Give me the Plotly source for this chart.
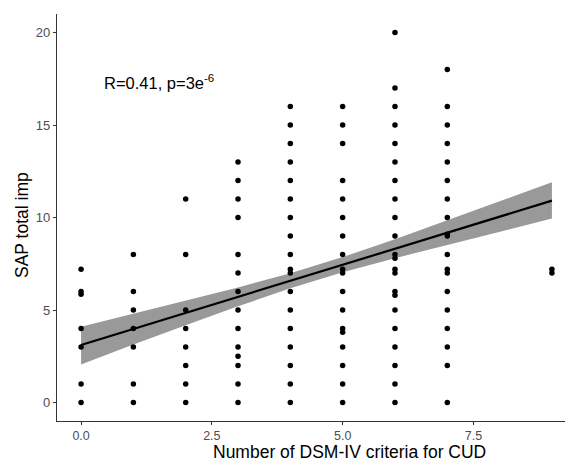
import plotly.graph_objects as go

# Scatter data: DSM-IV criteria count (x) vs SAP total imp (y)
crit_0 = [7.2, 6.0, 5.85, 4, 3, 1, 0]
crit_1 = [8, 6, 5, 4, 3, 1, 0]
crit_2 = [11, 8, 5, 4, 3, 2, 1, 0]
crit_3 = [13, 12, 11, 10, 8, 7, 6, 5, 4, 3, 2.5, 2, 1, 0]
crit_4 = [16, 15, 14, 13, 12, 11, 10, 9, 8, 7.2, 7, 6, 5, 4, 3, 2, 1, 0]
crit_5 = [16, 15, 14, 12, 11, 10, 9, 8, 7.2, 7, 6, 5, 4, 3.8, 3, 2, 1, 0]
crit_6 = [20, 17, 16, 15, 14, 13, 12, 11, 10, 9, 8, 7.8, 7.2, 7, 6, 5.8, 5, 4, 3, 2, 1, 0]
crit_7 = [18, 16, 15, 14, 13, 12, 11, 10, 9.1, 9, 8, 7.2, 7, 6, 5, 4, 3, 2, 0]
crit_9 = [7.2, 7.0]

groups = {0: crit_0, 1: crit_1, 2: crit_2, 3: crit_3, 4: crit_4,
          5: crit_5, 6: crit_6, 7: crit_7, 9: crit_9}

# Regression fit and confidence band
fit_x = [0, 1, 2, 3, 4, 5, 6, 7, 8, 9]
fit_y = [3.11, 3.98, 4.84, 5.71, 6.58, 7.45, 8.31, 9.18, 10.05, 10.91]
ci_upper = [4.10, 4.82, 5.50, 6.22, 6.99, 7.86, 8.82, 9.84, 10.89, 11.90]
ci_lower = [2.05, 3.14, 4.18, 5.20, 6.17, 7.04, 7.80, 8.52, 9.21, 9.94]

x_ticks = [0, 2.5, 5, 7.5]
x_tick_labels = ["0.0", "2.5", "5.0", "7.5"]
y_ticks = [0, 5, 10, 15, 20]

xs, ys = [], []
for k, vals in groups.items():
    for v in vals:
        xs.append(k)
        ys.append(v)

FONT = "Liberation Sans, Arial, Helvetica, sans-serif"

fig = go.Figure()
fig.add_trace(go.Scatter(
    x=fit_x + fit_x[::-1], y=ci_upper + ci_lower[::-1],
    fill="toself", fillcolor="#999999", line=dict(width=0),
    mode="lines", hoverinfo="skip", showlegend=False))
fig.add_trace(go.Scatter(
    x=fit_x, y=fit_y, mode="lines",
    line=dict(color="black", width=2.2), showlegend=False))
fig.add_trace(go.Scatter(
    x=xs, y=ys, mode="markers",
    marker=dict(color="black", size=5.5), showlegend=False))

L, R, T, B = 57, 0, 14, 39
W, H = 565, 460
pw, ph = W - L - R, H - T - B

fig.update_layout(
    width=W, height=H,
    margin=dict(l=L, r=R, t=T, b=B),
    plot_bgcolor="white", paper_bgcolor="white",
    font=dict(family=FONT),
    xaxis=dict(range=[-0.46, 9.25], tickvals=x_ticks, ticktext=x_tick_labels,
               showline=True, linecolor="#333333", linewidth=1.2,
               ticks="outside", ticklen=2.5, tickcolor="#333333", tickwidth=1,
               showgrid=False, zeroline=False,
               tickfont=dict(size=12.5, color="#4d4d4d", family=FONT)),
    yaxis=dict(range=[-1, 21], tickvals=y_ticks,
               showline=True, linecolor="#333333", linewidth=1.2,
               ticks="outside", ticklen=3, tickcolor="#333333", tickwidth=1,
               showgrid=False, zeroline=False,
               tickfont=dict(size=13, color="#4d4d4d", family=FONT)),
    annotations=[
        dict(text="R=0.41, p=3e<sup>-6</sup>", x=0.40, y=17.3, xref="x", yref="y",
             xanchor="left", yanchor="middle", showarrow=False,
             font=dict(size=16.5, color="black", family=FONT)),
        dict(text="Number of DSM-IV criteria for CUD", x=5.13, xref="x",
             y=-(451.5 - (H - B)) / ph, yref="paper",
             xanchor="center", yanchor="middle", showarrow=False,
             font=dict(size=17.5, color="black", family=FONT)),
        dict(text="SAP total imp", x=(22 - L) / pw, xref="paper",
             y=(H - B - 225) / ph, yref="paper", textangle=-90,
             xanchor="center", yanchor="middle", showarrow=False,
             font=dict(size=17.5, color="black", family=FONT)),
    ],
)

fig.write_html("out.html", config={"displayModeBar": False},
               post_script="document.body.style.margin='0px';document.body.style.overflow='hidden';")
